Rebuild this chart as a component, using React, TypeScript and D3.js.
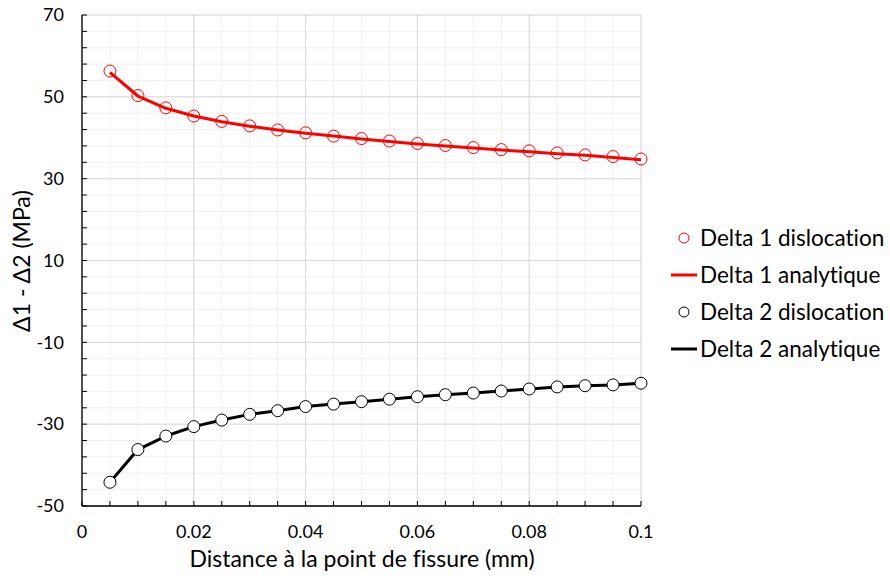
import React from "react";
import * as d3 from "d3";

const xValues = [0.005, 0.01, 0.015, 0.02, 0.025, 0.03, 0.035, 0.04, 0.045, 0.05, 0.055, 0.06, 0.065, 0.07, 0.075, 0.08, 0.085, 0.09, 0.095, 0.1];
const delta1Dislocation = [56.3, 50.3, 47.3, 45.3, 44.0, 42.9, 41.9, 41.2, 40.4, 39.8, 39.2, 38.6, 38.1, 37.6, 37.1, 36.8, 36.3, 35.8, 35.4, 34.8];
const delta1Analytique = [56.0, 50.2, 47.2, 45.3, 43.9, 42.8, 41.9, 41.1, 40.4, 39.7, 39.1, 38.5, 38.0, 37.5, 37.0, 36.6, 36.1, 35.7, 35.2, 34.6];
const delta2Dislocation = [-44.2, -36.2, -32.9, -30.6, -29.0, -27.6, -26.7, -25.7, -25.1, -24.5, -23.9, -23.3, -22.8, -22.4, -21.9, -21.4, -20.9, -20.6, -20.4, -20.0];
const delta2Analytique = [-44.2, -36.2, -32.9, -30.6, -29.0, -27.6, -26.7, -25.7, -25.1, -24.5, -23.9, -23.3, -22.8, -22.4, -21.9, -21.4, -20.9, -20.6, -20.4, -20.0];

const xTickLabels = [0, 0.02, 0.04, 0.06, 0.08, 0.1];
const yTickLabels = [-50, -30, -10, 10, 30, 50, 70];
const legendLabels = ["Delta 1 dislocation", "Delta 1 analytique", "Delta 2 dislocation", "Delta 2 analytique"];

const FONT = "Lato, 'Open Sans', sans-serif";

export default function App() {
  const W = 890, H = 579;
  const x = d3.scaleLinear().domain([0, 0.1]).range([82, 641]);
  const y = d3.scaleLinear().domain([-50, 70]).range([506, 15]);

  const xMinor = d3.range(0, 0.1 + 1e-9, 0.005);
  const yMinor = d3.range(-50, 70 + 1e-9, 4);
  const xMajor = d3.range(0, 0.1 + 1e-9, 0.02);
  const yMajor = d3.range(-50, 70 + 1e-9, 20);

  const line = d3.line<number>().x((_, i) => x(xValues[i])).y((d) => y(d));

  const legendY = [238, 275, 312, 349];

  return (
    <svg width={W} height={H} style={{ position: "absolute", left: 0, top: 0, background: "#fff", fontVariantLigatures: "none" }} fontFamily={FONT}>
      {xMinor.map((v, i) => (
        <line key={"xm" + i} x1={x(v)} x2={x(v)} y1={y(-50)} y2={y(70)} stroke="#f0f0f0" strokeWidth={1} />
      ))}
      {yMinor.map((v, i) => (
        <line key={"ym" + i} x1={x(0)} x2={x(0.1)} y1={y(v)} y2={y(v)} stroke="#f0f0f0" strokeWidth={1} />
      ))}
      {xMajor.map((v, i) => (
        <line key={"xM" + i} x1={x(v)} x2={x(v)} y1={y(-50)} y2={y(70)} stroke="#d9d9d9" strokeWidth={1} />
      ))}
      {yMajor.map((v, i) => (
        <line key={"yM" + i} x1={x(0)} x2={x(0.1)} y1={y(v)} y2={y(v)} stroke="#d9d9d9" strokeWidth={1} />
      ))}

      <line x1={x(0)} x2={x(0)} y1={y(-50)} y2={y(70)} stroke="#000" strokeWidth={1.3} />
      <line x1={x(0)} x2={x(0.1)} y1={y(-50)} y2={y(-50)} stroke="#000" strokeWidth={1.3} />
      {yMinor.map((v, i) => (
        <line key={"yt" + i} x1={x(0)} x2={x(0) + 5} y1={y(v)} y2={y(v)} stroke="#000" strokeWidth={1} />
      ))}
      {xMinor.map((v, i) => (
        <line key={"xt" + i} x1={x(v)} x2={x(v)} y1={y(-50)} y2={y(-50) - 5} stroke="#000" strokeWidth={1} />
      ))}

      {yTickLabels.map((v) => (
        <text key={"yl" + v} x={64} y={y(v)} dy="0.35em" textAnchor="end" fontSize={18} fill="#000">
          {v}
        </text>
      ))}
      {xTickLabels.map((v) => (
        <text key={"xl" + v} x={x(v)} y={538} textAnchor="middle" fontSize={18} fill="#000">
          {v}
        </text>
      ))}

      <text x={362} y={567} textAnchor="middle" fontSize={23} fill="#000">
        Distance à la point de fissure (mm)
      </text>
      <text transform={`translate(30,261) rotate(-90)`} textAnchor="middle" fontSize={23} fill="#000">
        Δ1 - Δ2 (MPa)
      </text>

      <path d={line(delta1Analytique) || ""} fill="none" stroke="#ff0000" strokeWidth={3} strokeLinejoin="round" />
      {delta1Dislocation.map((v, i) => (
        <circle key={"d1" + i} cx={x(xValues[i])} cy={y(v)} r={6} fill="none" stroke="#ff0000" strokeWidth={1} />
      ))}
      <path d={line(delta2Analytique) || ""} fill="none" stroke="#000" strokeWidth={3} strokeLinejoin="round" />
      {delta2Dislocation.map((v, i) => (
        <circle key={"d2" + i} cx={x(xValues[i])} cy={y(v)} r={6} fill="#fff" stroke="#000" strokeWidth={1} />
      ))}

      <circle cx={684} cy={legendY[0]} r={5} fill="#fff" stroke="#ff0000" strokeWidth={1} />
      <line x1={671} x2={697} y1={legendY[1]} y2={legendY[1]} stroke="#ff0000" strokeWidth={3} />
      <circle cx={684} cy={legendY[2]} r={5} fill="#fff" stroke="#000" strokeWidth={1} />
      <line x1={671} x2={697} y1={legendY[3]} y2={legendY[3]} stroke="#000" strokeWidth={3} />
      {legendLabels.map((t, i) => (
        <text key={t} x={700} y={legendY[i]} dy="0.35em" fontSize={22.5} fill="#000">
          {t}
        </text>
      ))}
    </svg>
  );
}
